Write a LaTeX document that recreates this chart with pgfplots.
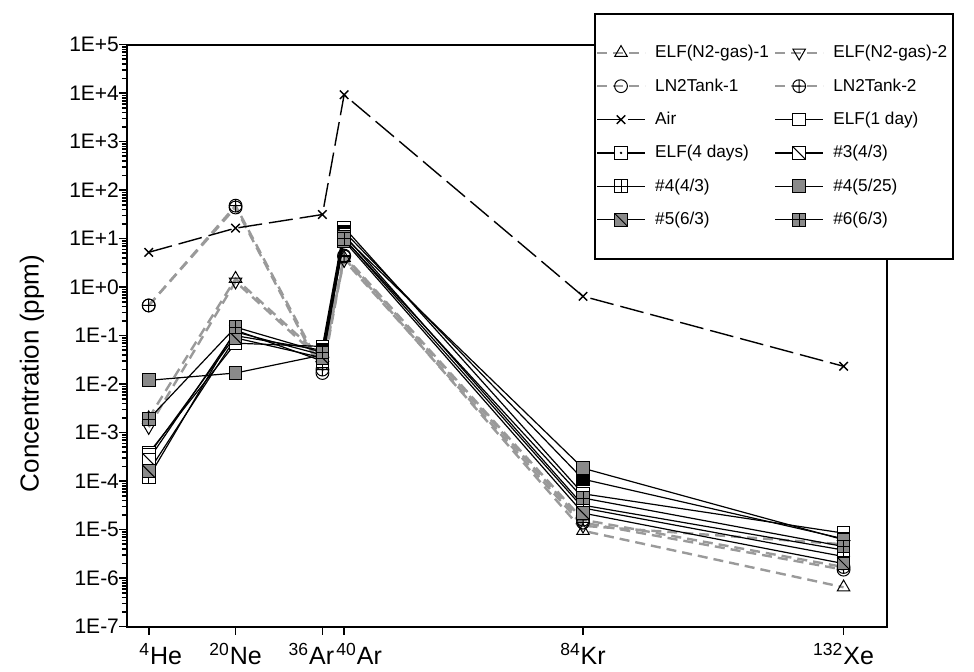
\documentclass[border=0pt]{standalone}
\usepackage{fontspec}
\setmainfont{Liberation Sans}
\usepackage{pgfplots}
\pgfplotsset{compat=1.18}
\definecolor{lgray}{HTML}{9A9A9A}
\definecolor{mfill}{HTML}{8A8A8A}
\pgfdeclareplotmark{sqdot}{%
  \pgfpathrectangle{\pgfqpoint{-\pgfplotmarksize}{-\pgfplotmarksize}}{\pgfqpoint{2\pgfplotmarksize}{2\pgfplotmarksize}}%
  \pgfusepathqfillstroke
  \pgfpathcircle{\pgfpointorigin}{0.2\pgfplotmarksize}%
  \pgfsetfillcolor{black}\pgfusepathqfill}
\pgfdeclareplotmark{sqdiag}{%
  \pgfpathrectangle{\pgfqpoint{-\pgfplotmarksize}{-\pgfplotmarksize}}{\pgfqpoint{2\pgfplotmarksize}{2\pgfplotmarksize}}%
  \pgfusepathqfillstroke
  \pgfpathmoveto{\pgfqpoint{-\pgfplotmarksize}{\pgfplotmarksize}}%
  \pgfpathlineto{\pgfqpoint{\pgfplotmarksize}{-\pgfplotmarksize}}%
  \pgfusepathqstroke}
\pgfdeclareplotmark{sqplus}{%
  \pgfpathrectangle{\pgfqpoint{-\pgfplotmarksize}{-\pgfplotmarksize}}{\pgfqpoint{2\pgfplotmarksize}{2\pgfplotmarksize}}%
  \pgfusepathqfillstroke
  \pgfpathmoveto{\pgfqpoint{-\pgfplotmarksize}{0pt}}%
  \pgfpathlineto{\pgfqpoint{\pgfplotmarksize}{0pt}}%
  \pgfpathmoveto{\pgfqpoint{0pt}{-\pgfplotmarksize}}%
  \pgfpathlineto{\pgfqpoint{0pt}{\pgfplotmarksize}}%
  \pgfusepathqstroke}
\begin{document}
\begin{tikzpicture}
\begin{axis}[
  name=ax,
  scale only axis,
  width=380pt, height=291pt,
  xmin=0, xmax=140,
  ymode=log, ymin=1e-7, ymax=1e5,
  axis line style={line width=1.1pt},
  tick style={black, line width=0.8pt},
  major tick length=4pt, minor tick length=2.5pt,
  tick align=outside,
  xtick pos=bottom, ytick pos=left,
  xtick={4,20,36,40,84,132},
  xticklabels={\hspace*{12pt}\textsuperscript{4}He,\textsuperscript{20}Ne,\hspace*{-11pt}\textsuperscript{36}Ar,\hspace*{15pt}\textsuperscript{40}Ar,\textsuperscript{84}Kr,\textsuperscript{132}Xe},
  xticklabel style={font=\fontsize{12.5}{15}\selectfont, yshift=-1pt},
  ytick={1e-7,1e-6,1e-5,1e-4,1e-3,1e-2,1e-1,1,1e1,1e2,1e3,1e4,1e5},
  yticklabels={1E-7,1E-6,1E-5,1E-4,1E-3,1E-2,1E-1,1E+0,1E+1,1E+2,1E+3,1E+4,1E+5},
  yticklabel style={font=\fontsize{10.5}{12}\selectfont, xshift=3.5pt},
  minor ytick={2e-7,3e-7,4e-7,5e-7,6e-7,7e-7,8e-7,9e-7,
    2e-6,3e-6,4e-6,5e-6,6e-6,7e-6,8e-6,9e-6,
    2e-5,3e-5,4e-5,5e-5,6e-5,7e-5,8e-5,9e-5,
    2e-4,3e-4,4e-4,5e-4,6e-4,7e-4,8e-4,9e-4,
    2e-3,3e-3,4e-3,5e-3,6e-3,7e-3,8e-3,9e-3,
    2e-2,3e-2,4e-2,5e-2,6e-2,7e-2,8e-2,9e-2,
    0.2,0.3,0.4,0.5,0.6,0.7,0.8,0.9,
    2,3,4,5,6,7,8,9,
    20,30,40,50,60,70,80,90,
    200,300,400,500,600,700,800,900,
    2000,3000,4000,5000,6000,7000,8000,9000,
    20000,30000,40000,50000,60000,70000,80000,90000},
  ylabel={Concentration (ppm)},
  ylabel style={font=\fontsize{13}{15}\selectfont, at={(axis description cs:-0.125,0.435)}, anchor=center},
  mark size=3.2pt,
  legend columns=2,
  legend cell align=left,
  legend style={at={(rel axis cs:0.6145,1.0545)}, anchor=north west,
    draw=black, line width=0.8pt, fill=white,
    font=\fontsize{8.6}{11}\selectfont,
    inner xsep=0.5pt, inner ysep=12.5pt,
    row sep=2.7pt,
    nodes={inner sep=2.5pt, text height=7pt, text depth=2pt},
    /tikz/every odd column/.append style={column sep=2pt},
    /tikz/every even column/.append style={column sep=0pt}},
  legend image code/.code={\draw[mark repeat=2,mark phase=2,#1] plot coordinates {(0pt,0pt) (12pt,0pt) (24pt,0pt)};},
]
% gray dashed series
\addplot[lgray, line width=1.2pt, dash pattern=on 5pt off 3pt, mark=triangle, mark size=3.6pt, mark options={solid, black, line width=0.5pt, fill=white}]
  coordinates {(4,2.0e-3) (20,1.5) (36,0.035) (40,4.0) (84,9.5e-6) (132,6.5e-7)};
\addlegendentry{ELF(N2-gas)-1}
\addplot[lgray, line width=1.2pt, dash pattern=on 5pt off 3pt, mark=triangle, mark size=3.6pt, mark options={solid, black, line width=0.5pt, fill=white, rotate=180}]
  coordinates {(4,1.3e-3) (20,1.3) (36,0.03) (40,3.6) (84,1.2e-5) (132,5.0e-6)};
\addlegendentry{ELF(N2-gas)-2}
\addplot[lgray, line width=1.2pt, dash pattern=on 5pt off 3pt, mark=o, mark options={solid, black, line width=0.5pt, fill=white}]
  coordinates {(4,0.42) (20,44) (36,0.017) (40,4.3) (84,1.4e-5) (132,1.5e-6)};
\addlegendentry{LN2Tank-1}
\addplot[lgray, line width=1.2pt, dash pattern=on 5pt off 3pt, mark=oplus, mark options={solid, black, line width=0.5pt, fill=white}]
  coordinates {(4,0.42) (20,48) (36,0.02) (40,4.5) (84,1.6e-5) (132,1.7e-6)};
\addlegendentry{LN2Tank-2}
% air
\addplot[black, line width=0.7pt, dash pattern=on 12pt off 3.5pt, mark=x, mark size=3pt, mark options={solid}]
  coordinates {(4,5.24) (20,16.5) (36,31.5) (40,9300) (84,0.65) (132,0.0234)};
\addlegendentry{Air}
% black solid series
\addplot[black, line width=0.6pt, mark=square*, mark options={solid, fill=white, line width=0.5pt}]
  coordinates {(4,3.8e-4) (20,0.07) (36,0.06) (40,17) (84,5.5e-5) (132,8.5e-6)};
\addlegendentry{ELF(1 day)}
\addplot[black, line width=0.6pt, mark=sqdot, mark options={solid, fill=white, line width=0.5pt}]
  coordinates {(4,3.5e-4) (20,0.10) (36,0.05) (40,14) (84,1.1e-4) (132,6.5e-6)};
\addlegendentry{ELF(4 days)}
\addplot[black, line width=0.6pt, mark=sqdiag, mark options={solid, fill=white, line width=0.5pt}]
  coordinates {(4,2.8e-4) (20,0.12) (36,0.04) (40,12) (84,3.2e-5) (132,3.8e-6)};
\addlegendentry{\#3(4/3)}
\addplot[black, line width=0.6pt, mark=sqplus, mark options={solid, fill=white, line width=0.5pt}]
  coordinates {(4,1.2e-4) (20,0.13) (36,0.03) (40,10) (84,2.8e-5) (132,2.8e-6)};
\addlegendentry{\#4(4/3)}
\addplot[black, line width=0.6pt, mark=square*, mark options={solid, fill=mfill, line width=0.5pt}]
  coordinates {(4,0.012) (20,0.017) (36,0.04) (40,11) (84,1.85e-4) (132,6.2e-6)};
\addlegendentry{\#4(5/25)}
\addplot[black, line width=0.6pt, mark=sqdiag, mark options={solid, fill=mfill, line width=0.5pt}]
  coordinates {(4,1.6e-4) (20,0.09) (36,0.035) (40,9) (84,2.2e-5) (132,2.0e-6)};
\addlegendentry{\#5(6/3)}
\addplot[black, line width=0.6pt, mark=sqplus, mark options={solid, fill=mfill, line width=0.5pt}]
  coordinates {(4,1.9e-3) (20,0.15) (36,0.045) (40,10) (84,4.5e-5) (132,4.5e-6)};
\addlegendentry{\#6(6/3)}
\end{axis}
\pgfresetboundingbox
\path ([xshift=-63.5pt,yshift=-22.5pt]ax.south west) rectangle ([xshift=43.5pt,yshift=22.35pt]ax.north east);
\end{tikzpicture}
\end{document}
